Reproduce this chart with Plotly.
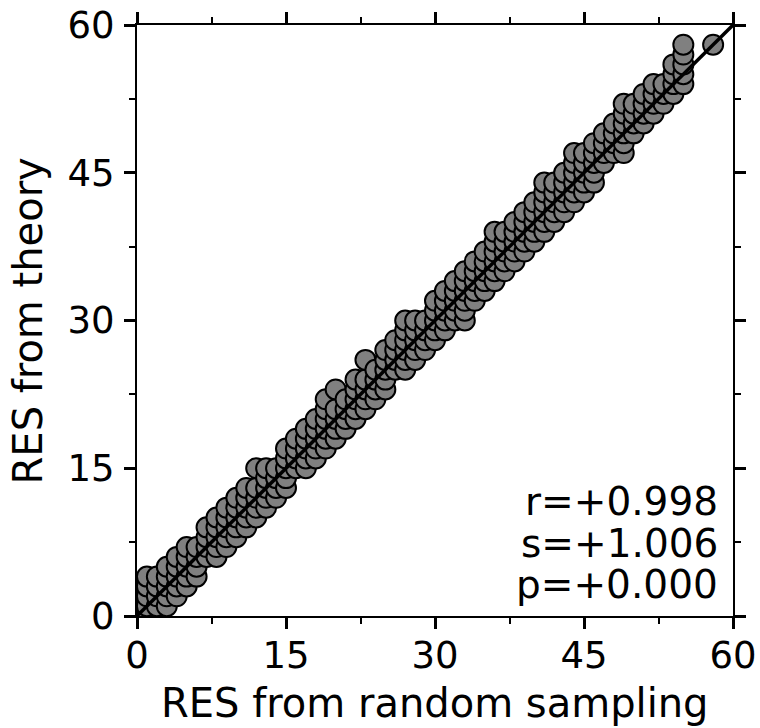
import plotly.graph_objects as go

# RES from random sampling (x) and RES from theory (y)
x_vals = (
    [0]*4 + [1]*5 + [2]*4 + [3]*5 + [4]*5 + [5]*5 + [6]*4 + [7]*4 + [8]*5 + [9]*5
)
y_vals = [
    0, 1, 2, 3,
    0, 1, 2, 3, 4,
    1, 2, 3, 4,
    1, 2, 3, 4, 5,
    2, 3, 4, 5, 6,
    3, 4, 5, 6, 7,
    4, 5, 6, 7,
    6, 7, 8, 9,
    6, 7, 8, 9, 10,
    7, 8, 9, 10, 11,
]
x_vals2 = (
    [10]*5 + [11]*5 + [12]*5 + [13]*5 + [14]*4 + [15]*5 + [16]*4 + [17]*5 + [18]*5 + [19]*6
)
y_vals2 = [
    8, 9, 10, 11, 12,
    9, 10, 11, 12, 13,
    10, 11, 12, 13, 15,
    11, 12, 13, 14, 15,
    12, 13, 14, 15,
    13, 14, 15, 16, 17,
    15, 16, 17, 18,
    15, 16, 17, 18, 19,
    16, 17, 18, 19, 20,
    17, 18, 19, 20, 21, 22,
]
x_vals3 = (
    [20]*5 + [21]*4 + [22]*5 + [23]*5 + [24]*4 + [25]*5 + [26]*4 + [27]*6 + [28]*5 + [29]*4
)
y_vals3 = [
    18, 19, 20, 21, 23,
    19, 20, 21, 22,
    20, 21, 22, 23, 24,
    21, 22, 23, 24, 26,
    22, 23, 24, 25,
    23, 24, 25, 26, 27,
    25, 26, 27, 28,
    25, 26, 27, 28, 29, 30,
    26, 27, 28, 29, 30,
    27, 28, 29, 30,
]
x_vals4 = (
    [30]*5 + [31]*5 + [32]*5 + [33]*6 + [34]*5 + [35]*5 + [36]*6 + [37]*5 + [38]*5 + [39]*5
)
y_vals4 = [
    28, 29, 30, 31, 32,
    29, 30, 31, 32, 33,
    30, 31, 32, 33, 34,
    30, 31, 32, 33, 34, 35,
    32, 33, 34, 35, 36,
    33, 34, 35, 36, 37,
    34, 35, 36, 37, 38, 39,
    35, 36, 37, 38, 39,
    36, 37, 38, 39, 40,
    37, 38, 39, 40, 41,
]
x_vals5 = (
    [40]*5 + [41]*6 + [42]*5 + [43]*5 + [44]*6 + [45]*5 + [46]*5 + [47]*4 + [48]*4 + [49]*6
)
y_vals5 = [
    38, 39, 40, 41, 42,
    39, 40, 41, 42, 43, 44,
    40, 41, 42, 43, 44,
    41, 42, 43, 44, 45,
    42, 43, 44, 45, 46, 47,
    43, 44, 45, 46, 47,
    44, 45, 46, 47, 48,
    46, 47, 48, 49,
    47, 48, 49, 50,
    47, 48, 49, 50, 51, 52,
]
x_vals6 = [50]*4 + [51]*4 + [52]*4 + [53]*3 + [54]*4 + [55]*5 + [58]
y_vals6 = [
    49, 50, 51, 52,
    50, 51, 52, 53,
    51, 52, 53, 54,
    52, 53, 54,
    53, 54, 55, 56,
    54, 55, 56, 57, 58,
    58,
]

x_all = x_vals + x_vals2 + x_vals3 + x_vals4 + x_vals5 + x_vals6
y_all = y_vals + y_vals2 + y_vals3 + y_vals4 + y_vals5 + y_vals6

identity_x = [0, 60]
identity_y = [0, 60]

stats_lines = ["r=+0.998", "s=+1.006", "p=+0.000"]
tick_vals = [0, 15, 30, 45, 60]
x_title = "RES from random sampling"
y_title = "RES from theory"

FONT = "DejaVu Sans"

fig = go.Figure()
fig.add_trace(go.Scatter(
    x=x_all, y=y_all, mode="markers",
    marker=dict(size=20, color="#808080", line=dict(color="black", width=2)),
    showlegend=False,
))
fig.add_trace(go.Scatter(
    x=identity_x, y=identity_y, mode="lines",
    line=dict(color="black", width=3.5), showlegend=False,
))

axis_common = dict(
    range=[0, 60], tickvals=tick_vals, showgrid=False, zeroline=False,
    showline=True, linecolor="black", linewidth=2, mirror="allticks",
    ticks="outside", ticklen=11, tickwidth=2.5, tickcolor="black",
    minor=dict(ticks="outside", ticklen=6, tickwidth=2, tickcolor="black", dtick=7.5, tick0=0),
    tickfont=dict(family=FONT, size=37, color="black"),
    automargin=False, ticklabeloverflow="allow",
)

fig.update_xaxes(**axis_common, ticklabelstandoff=-5)
fig.update_yaxes(**axis_common, ticklabelstandoff=2)

fig.add_annotation(text=x_title, xref="paper", yref="paper", x=0.5, y=-0.147,
                   xanchor="center", yanchor="middle", showarrow=False,
                   font=dict(family=FONT, size=40, color="black"))
fig.add_annotation(text=y_title, xref="paper", yref="paper", x=-0.183, y=0.5,
                   xanchor="center", yanchor="middle", showarrow=False, textangle=-90,
                   font=dict(family=FONT, size=40, color="black"))

y_pos = [0.193, 0.1235, 0.054]
for txt, yp in zip(stats_lines, y_pos):
    fig.add_annotation(text=txt, xref="paper", yref="paper", x=0.978, y=yp,
                       xanchor="right", yanchor="middle", showarrow=False,
                       font=dict(family=FONT, size=39, color="black"))

fig.update_layout(
    width=760, height=728,
    margin=dict(l=137, r=27, t=25, b=112),
    plot_bgcolor="white", paper_bgcolor="white",
)

fig.write_html("out.html", config={"displayModeBar": False},
               post_script="document.body.style.margin='0';")
